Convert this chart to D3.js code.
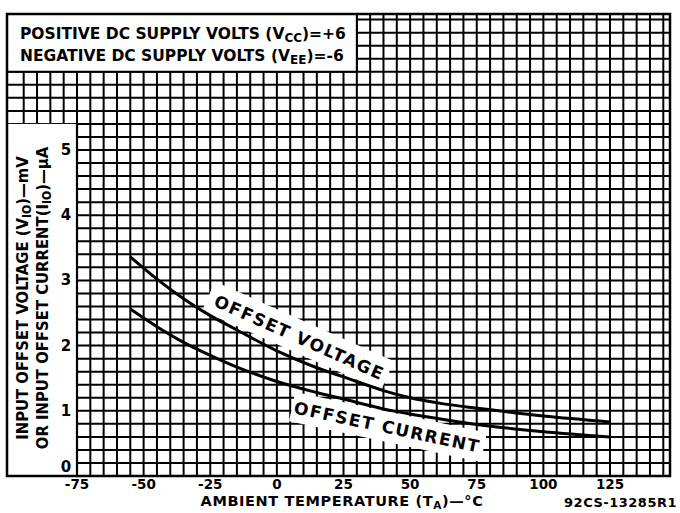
<!DOCTYPE html>
<html>
<head>
<meta charset="utf-8">
<script src="https://cdn.jsdelivr.net/npm/d3@7"></script>
<style>
  body { margin: 0; background: #fff; }
  text { font-family: "DejaVu Sans", sans-serif; font-weight: bold; fill: #000; }
</style>
</head>
<body>
<div id="chart"></div>
<script>
// data
var temps = [-55, -45, -35, -25, -15, 0, 15, 25, 40, 50, 62, 75, 100, 125];
var offsetVoltage = [3.36, 3.02, 2.72, 2.46, 2.24, 1.92, 1.66, 1.52, 1.31, 1.2, 1.11, 1.04, 0.92, 0.83];
var offsetCurrent = [2.56, 2.29, 2.05, 1.85, 1.67, 1.45, 1.28, 1.18, 1.03, 0.95, 0.87, 0.79, 0.68, 0.6];
var xTicks = [-75, -50, -25, 0, 25, 50, 75, 100, 125];
var yTicks = [0, 1, 2, 3, 4, 5];
var headerLines = [
    ["POSITIVE DC SUPPLY VOLTS (V", "CC", ")=+6"],
    ["NEGATIVE DC SUPPLY VOLTS (V", "EE", ")=-6"]
];

var W = 680, H = 513;
var frame = { left: 7, right: 670, top: 14, bottom: 476 };

var x = d3.scaleLinear().domain([-75, 125]).range([77, 610]);
var y = d3.scaleLinear().domain([0, 5]).range([476, 150]);

var svg = d3.select("#chart").append("svg")
    .attr("width", W)
    .attr("height", H);

svg.append("rect").attr("width", W).attr("height", H).attr("fill", "#fff");

svg.append("clipPath").attr("id", "frameClip")
    .append("rect")
    .attr("x", frame.left).attr("y", frame.top)
    .attr("width", frame.right - frame.left)
    .attr("height", frame.bottom - frame.top);

var grid = svg.append("g").attr("clip-path", "url(#frameClip)");

// vertical lines every 5 degC
grid.selectAll("line.v")
    .data(d3.range(-95, 150, 5))
    .enter().append("line")
    .attr("x1", d => x(d)).attr("x2", d => x(d))
    .attr("y1", frame.top).attr("y2", frame.bottom)
    .attr("stroke", "#000").attr("stroke-width", 2);

// horizontal lines every 0.2
grid.selectAll("line.h")
    .data(d3.range(0, 36).map(i => i * 0.2))
    .enter().append("line")
    .attr("x1", frame.left).attr("x2", frame.right)
    .attr("y1", d => y(d)).attr("y2", d => y(d))
    .attr("stroke", "#000").attr("stroke-width", 2);

// header box
var headerRight = x(30), headerBottom = y(6.2);
svg.append("rect")
    .attr("x", frame.left).attr("y", frame.top)
    .attr("width", headerRight - frame.left)
    .attr("height", headerBottom - frame.top)
    .attr("fill", "#fff");
svg.append("line")
    .attr("x1", frame.left).attr("x2", headerRight)
    .attr("y1", headerBottom).attr("y2", headerBottom)
    .attr("stroke", "#000").attr("stroke-width", 2.2);
svg.append("line")
    .attr("x1", headerRight).attr("x2", headerRight)
    .attr("y1", frame.top).attr("y2", headerBottom)
    .attr("stroke", "#000").attr("stroke-width", 2);

// y title box
svg.append("rect")
    .attr("x", frame.left).attr("y", y(5.4))
    .attr("width", x(-75) - frame.left)
    .attr("height", frame.bottom - y(5.4))
    .attr("fill", "#fff");
svg.append("line")
    .attr("x1", x(-75)).attr("x2", x(-75))
    .attr("y1", y(5.4)).attr("y2", frame.bottom)
    .attr("stroke", "#000").attr("stroke-width", 2.2);

// white patches behind curve labels
function patch(cx, cy, w, h, angle) {
    svg.append("rect")
        .attr("x", -w / 2).attr("y", -h / 2)
        .attr("width", w).attr("height", h)
        .attr("fill", "#fff")
        .attr("transform", "translate(" + cx + "," + cy + ") rotate(" + angle + ")");
}
patch(298, 336, 196, 32, 24);
patch(388, 427, 196, 30, 12);

// curves
var line = d3.line()
    .x((d, i) => x(temps[i]))
    .y(d => y(d))
    .curve(d3.curveCatmullRom);

svg.append("path").datum(offsetVoltage)
    .attr("d", line)
    .attr("fill", "none").attr("stroke", "#000").attr("stroke-width", 3);
svg.append("path").datum(offsetCurrent)
    .attr("d", line)
    .attr("fill", "none").attr("stroke", "#000").attr("stroke-width", 3);

// frame
svg.append("rect")
    .attr("x", frame.left).attr("y", frame.top)
    .attr("width", frame.right - frame.left)
    .attr("height", frame.bottom - frame.top)
    .attr("fill", "none").attr("stroke", "#000").attr("stroke-width", 2.5);

// curve labels
svg.append("text")
    .attr("transform", "translate(297,343) rotate(24)")
    .attr("text-anchor", "middle")
    .style("font-size", "17px")
    .attr("letter-spacing", 1.5)
    .text("OFFSET VOLTAGE");
svg.append("text")
    .attr("transform", "translate(386,433) rotate(12)")
    .attr("text-anchor", "middle")
    .style("font-size", "17px")
    .attr("letter-spacing", 1.5)
    .text("OFFSET CURRENT");

// header text
headerLines.forEach(function (parts, i) {
    var t = svg.append("text")
        .attr("x", 20).attr("y", 39 + i * 22)
        .style("font-size", "15.5px");
    t.append("tspan").text(parts[0]);
    t.append("tspan").attr("dy", 3).style("font-size", "12px").text(parts[1]);
    t.append("tspan").attr("dy", -3).text(parts[2]);
});

// tick labels
svg.selectAll("text.xt")
    .data(xTicks)
    .enter().append("text")
    .attr("x", d => x(d)).attr("y", 489)
    .attr("text-anchor", "middle")
    .style("font-size", "13.5px")
    .text(d => d);

svg.selectAll("text.yt")
    .data(yTicks)
    .enter().append("text")
    .attr("x", 66).attr("y", d => d == 0 ? y(d) - 4 : y(d) + 5)
    .attr("text-anchor", "middle")
    .style("font-size", "15px")
    .text(d => d);

// axis titles
var xt = svg.append("text")
    .attr("x", 342).attr("y", 506)
    .attr("text-anchor", "middle")
    .attr("letter-spacing", 0.6)
    .style("font-size", "14.5px");
xt.append("tspan").text("AMBIENT TEMPERATURE (T");
xt.append("tspan").attr("dy", 3).style("font-size", "10.5px").text("A");
xt.append("tspan").attr("dy", -3).text(")—°C");

svg.append("text")
    .attr("x", 677).attr("y", 507)
    .attr("text-anchor", "end")
    .attr("letter-spacing", 0.5)
    .style("font-size", "13px")
    .text("92CS-13285R1");

var yt1 = svg.append("text")
    .attr("transform", "translate(28,298) rotate(-90)")
    .attr("text-anchor", "middle")
    .style("font-family", "'DejaVu Sans Condensed', 'DejaVu Sans', sans-serif")
    .style("font-size", "16.5px");
yt1.append("tspan").text("INPUT OFFSET VOLTAGE (V");
yt1.append("tspan").attr("dy", 3).style("font-size", "12px").text("IO");
yt1.append("tspan").attr("dy", -3).text(")—mV");

var yt2 = svg.append("text")
    .attr("transform", "translate(48,298) rotate(-90)")
    .attr("text-anchor", "middle")
    .style("font-family", "'DejaVu Sans Condensed', 'DejaVu Sans', sans-serif")
    .style("font-size", "16.5px");
yt2.append("tspan").text("OR INPUT OFFSET CURRENT(I");
yt2.append("tspan").attr("dy", 3).style("font-size", "12px").text("IO");
yt2.append("tspan").attr("dy", -3).text(")—μA");
</script>
</body>
</html>
